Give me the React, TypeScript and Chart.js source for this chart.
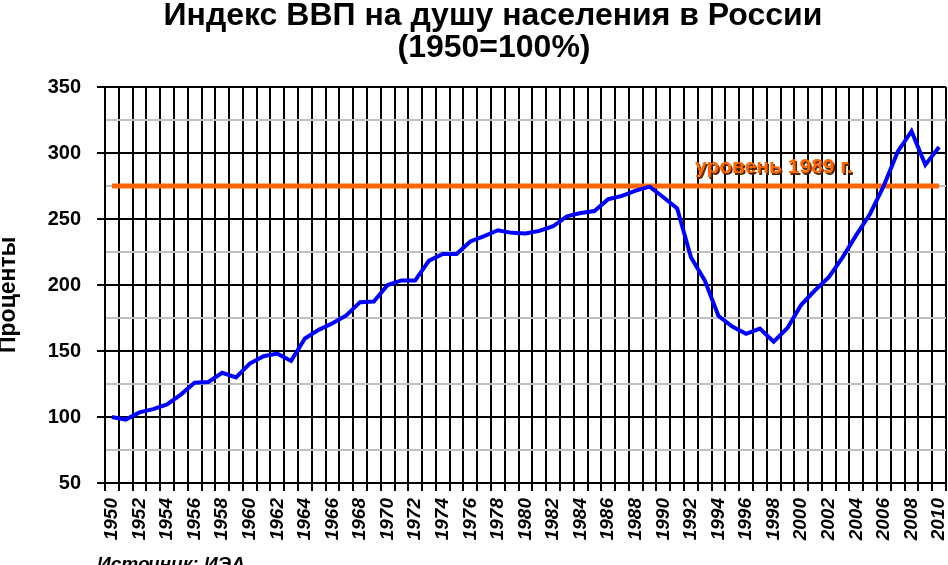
import React, { useEffect, useRef } from 'react';
import { Chart, registerables } from 'chart.js';

Chart.register(...registerables);

const YEARS = [
  '1950', '1951', '1952', '1953', '1954', '1955', '1956', '1957', '1958', '1959',
  '1960', '1961', '1962', '1963', '1964', '1965', '1966', '1967', '1968', '1969',
  '1970', '1971', '1972', '1973', '1974', '1975', '1976', '1977', '1978', '1979',
  '1980', '1981', '1982', '1983', '1984', '1985', '1986', '1987', '1988', '1989',
  '1990', '1991', '1992', '1993', '1994', '1995', '1996', '1997', '1998', '1999',
  '2000', '2001', '2002', '2003', '2004', '2005', '2006', '2007', '2008', '2009',
  '2010',
];

const GDP_INDEX = [
  100, 98, 103.5, 106, 109.5, 117, 126, 126.5, 133.5, 130,
  140.5, 146, 148, 142.5, 159.5, 166, 171, 177, 187, 187.5,
  200, 203.5, 203.5, 218.5, 223.5, 223.5, 233, 237, 241.5, 239.5,
  239, 241, 244.5, 252, 254.5, 256, 265, 267.5, 271.5, 274.5,
  266.5, 258, 221, 203.5, 176.5, 168.5, 163, 167, 157, 167.5,
  185, 196, 206, 221, 238, 254, 275.5, 301, 316.5, 291,
  304.5,
];

const LEVEL_1989 = 275;
const LEVEL_START = '1950';
const LEVEL_END = '2010';

const TITLE_LINES = ['Индекс ВВП на душу населения в России', '(1950=100%)'];
const Y_TITLE = 'Проценты';
const LEVEL_LABEL = 'уровень 1989 г.';
const SOURCE = 'Источник: ИЭА';

const Y_MIN = 50;
const Y_MAX = 350;
const Y_STEP = 25;

const FONT = '"Liberation Sans", Arial, sans-serif';

const textPlugin = {
  id: 'extraText',
  afterDraw(chart: any) {
    const ctx = chart.ctx as CanvasRenderingContext2D;
    ctx.save();
    // Title
    ctx.fillStyle = '#000';
    ctx.textAlign = 'center';
    ctx.textBaseline = 'alphabetic';
    ctx.font = `bold 32px ${FONT}`;
    ctx.fillText(TITLE_LINES[0], 493, 25);
    ctx.fillText(TITLE_LINES[1], 494, 57);

    // Y axis title
    ctx.save();
    ctx.translate(15, 353);
    ctx.rotate(-Math.PI / 2);
    ctx.textAlign = 'left';
    ctx.font = `bold 23px ${FONT}`;
    ctx.fillText(Y_TITLE, 0, 0);
    ctx.restore();

    // Source
    ctx.textAlign = 'left';
    ctx.font = `italic bold 19px ${FONT}`;
    ctx.fillText(SOURCE, 97, 570);

    // Level label
    const yScale = chart.scales.y;
    const yPix = yScale.getPixelForValue(LEVEL_1989);
    ctx.font = `bold 21px ${FONT}`;
    ctx.shadowColor = '#5a2800';
    ctx.shadowOffsetX = 1.5;
    ctx.shadowOffsetY = 1.5;
    ctx.shadowBlur = 0;
    ctx.fillStyle = '#FF6600';
    ctx.fillText(LEVEL_LABEL, 695, yPix - 13);
    ctx.restore();
  },
};

export default function App() {
  const canvasRef = useRef<HTMLCanvasElement | null>(null);

  useEffect(() => {
    const canvas = canvasRef.current;
    if (!canvas) return;
    const chart = new Chart(canvas, {
      type: 'line',
      data: {
        labels: YEARS,
        datasets: [
          {
            label: 'ВВП на душу населения',
            data: GDP_INDEX,
            borderColor: '#0000FF',
            borderWidth: 4,
            pointRadius: 0,
            tension: 0,
            fill: false,
            order: 0,
          },
          {
            label: LEVEL_LABEL,
            data: [
              { x: LEVEL_START, y: LEVEL_1989 },
              { x: LEVEL_END, y: LEVEL_1989 },
            ] as any,
            borderColor: '#FF6600',
            borderWidth: 5,
            pointRadius: 0,
            fill: false,
            order: 1,
          },
        ],
      },
      options: {
        responsive: false,
        animation: false,
        devicePixelRatio: 1,
        layout: { padding: { top: 87, right: 2, bottom: 0, left: 0 } },
        plugins: {
          legend: { display: false },
          title: { display: false },
          tooltip: { enabled: false },
        },
        scales: {
          x: {
            type: 'category',
            offset: true,
            grid: {
              offset: true,
              color: '#000',
              lineWidth: 2,
              tickLength: 8,
              tickColor: '#000',
              tickWidth: 2,
            },
            border: { display: true, color: '#000', width: 2 },
            ticks: {
              autoSkip: false,
              minRotation: 90,
              maxRotation: 90,
              padding: 7,
              color: '#000',
              font: { family: FONT, size: 19, weight: 'bold', style: 'italic' },
              callback: (_v: any, i: number) => (i % 2 === 0 ? YEARS[i] : ''),
            },
            afterFit: (scale: any) => {
              scale.height = 82;
              scale.paddingLeft = 0;
              scale.paddingRight = 0;
            },
          },
          y: {
            min: Y_MIN,
            max: Y_MAX,
            grid: {
              color: (c: any) => (c.tick && c.tick.value % 50 === 0 ? '#000' : '#C0C0C0'),
              lineWidth: 2,
              tickLength: 8,
              tickColor: (c: any) => (c.tick && c.tick.value % 50 === 0 ? '#000' : 'rgba(0,0,0,0)'),
              tickWidth: 2,
            },
            border: { display: true, color: '#000', width: 2 },
            ticks: {
              stepSize: Y_STEP,
              padding: 16,
              color: '#000',
              font: { family: FONT, size: 20, weight: 'bold' },
              callback: (v: any) => (Number(v) % 50 === 0 ? String(v) : ''),
            },
            afterFit: (scale: any) => {
              scale.width = 105;
              scale.paddingTop = 0;
              scale.paddingBottom = 0;
            },
          },
        },
      },
      plugins: [textPlugin],
    });
    return () => chart.destroy();
  }, []);

  return (
    <div style={{ position: 'absolute', left: 0, top: 0, width: 948, height: 565, background: '#fff' }}>
      <canvas ref={canvasRef} width={948} height={565} style={{ width: 948, height: 565 }} />
    </div>
  );
}
